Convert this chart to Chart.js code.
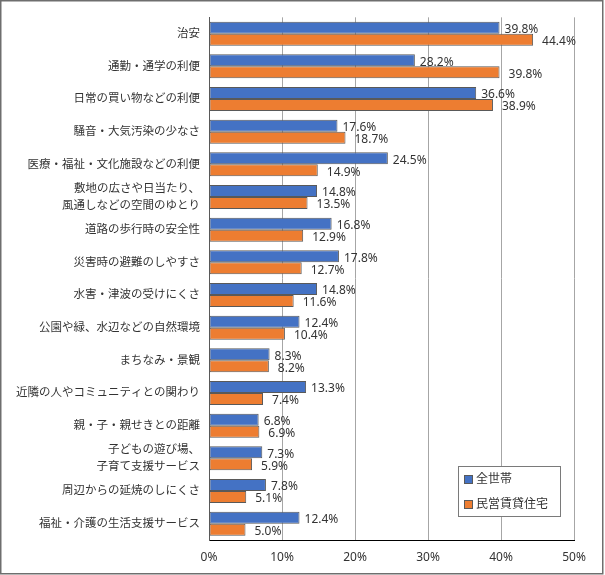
<!DOCTYPE html>
<html><head><meta charset="utf-8">
<script src="https://cdn.jsdelivr.net/npm/chart.js@4/dist/chart.umd.min.js"></script>
<style>html,body{margin:0;padding:0;background:#fff;}canvas{display:block;}</style>
</head><body>
<canvas id="c" width="605" height="575"></canvas>
<script>
const categories = [
  "治安",
  "通勤・通学の利便",
  "日常の買い物などの利便",
  "騒音・大気汚染の少なさ",
  "医療・福祉・文化施設などの利便",
  ["敷地の広さや日当たり、", "風通しなどの空間のゆとり"],
  "道路の歩行時の安全性",
  "災害時の避難のしやすさ",
  "水害・津波の受けにくさ",
  "公園や緑、水辺などの自然環境",
  "まちなみ・景観",
  "近隣の人やコミュニティとの関わり",
  "親・子・親せきとの距離",
  ["子どもの遊び場、", "子育て支援サービス"],
  "周辺からの延焼のしにくさ",
  "福祉・介護の生活支援サービス"
];
const seriesNames = ["全世帯", "民営賃貸住宅"];
const allHouseholds = [39.8, 28.2, 36.6, 17.6, 24.5, 14.8, 16.8, 17.8, 14.8, 12.4, 8.3, 13.3, 6.8, 7.3, 7.8, 12.4];
const privateRental = [44.4, 39.8, 38.9, 18.7, 14.9, 13.5, 12.9, 12.7, 11.6, 10.4, 8.2, 7.4, 6.9, 5.9, 5.1, 5.0];
const xTicks = [0, 10, 20, 30, 40, 50];

const FONT = "'Noto Sans', 'Noto Sans CJK JP', sans-serif";
const TXT = '#333333';
const colors = ['#4472C4', '#ED7D31'];

const labelPlugin = {
  id: 'valLabels',
  afterDatasetsDraw(chart) {
    const ctx = chart.ctx;
    ctx.save();
    ctx.font = '12px ' + FONT;
    ctx.fillStyle = TXT;
    ctx.textAlign = 'left';
    ctx.textBaseline = 'middle';
    chart.data.datasets.forEach((ds, di) => {
      const meta = chart.getDatasetMeta(di);
      meta.data.forEach((bar, i) => {
        const off = di === 0 ? 5 : 9;
        ctx.fillText(ds.data[i].toFixed(1) + '%', bar.x + off, bar.y + 2);
      });
    });
    ctx.restore();
  }
};

const legendBorderPlugin = {
  id: 'legendBorder',
  afterDraw(chart) {
    const ctx = chart.ctx;
    ctx.save();
    // outer border
    ctx.strokeStyle = '#6e6e6e';
    ctx.lineWidth = 1.5;
    ctx.strokeRect(0.75, 0.75, 602, 573);
    // legend box
    const lx = 458, ly = 466, lw = 102, lh = 50;
    ctx.fillStyle = '#ffffff';
    ctx.fillRect(lx, ly, lw, lh);
    ctx.strokeStyle = '#7a7a7a';
    ctx.lineWidth = 1;
    ctx.strokeRect(lx + 0.5, ly + 0.5, lw, lh);
    ctx.font = '12px ' + FONT;
    ctx.textAlign = 'left';
    ctx.textBaseline = 'middle';
    chart.data.datasets.forEach((ds, di) => {
      const cy = ly + 14 + di * 25;
      ctx.fillStyle = ds.backgroundColor;
      ctx.fillRect(lx + 7, cy - 4, 7, 7);
      ctx.strokeStyle = '#595959';
      ctx.strokeRect(lx + 6.5, cy - 4.5, 8, 8);
      ctx.fillStyle = TXT;
      ctx.fillText(ds.label, lx + 18, cy);
    });
    ctx.restore();
  }
};

new Chart(document.getElementById('c'), {
  type: 'bar',
  data: {
    labels: categories,
    datasets: [
      { label: seriesNames[0], data: allHouseholds, backgroundColor: colors[0], borderColor: '#595959', borderWidth: 1, borderSkipped: false },
      { label: seriesNames[1], data: privateRental, backgroundColor: colors[1], borderColor: '#595959', borderWidth: 1, borderSkipped: false }
    ]
  },
  options: {
    indexAxis: 'y',
    responsive: false,
    animation: false,
    devicePixelRatio: 1,
    layout: { padding: { top: 16, right: 31, left: 0, bottom: 0 } },
    datasets: { bar: { barPercentage: 1.0, categoryPercentage: 0.734 } },
    plugins: { legend: { display: false }, tooltip: { enabled: false } },
    scales: {
      x: {
        min: 0, max: 50,
        afterBuildTicks(scale) { scale.ticks = xTicks.map(v => ({ value: v })); },
        ticks: { callback: v => v + '%', color: TXT, font: { family: FONT, size: 12 }, padding: 10, maxRotation: 0 },
        grid: { color: '#A6A6A6', drawTicks: false, tickLength: 0, lineWidth: 1 },
        border: { display: true, color: '#000000', width: 1 },
        afterFit(scale) { scale.height = 35; }
      },
      y: {
        ticks: { color: TXT, font: { family: FONT, size: 11.5, lineHeight: 1.45 }, padding: 9, autoSkip: false },
        grid: { display: false, drawTicks: false },
        border: { display: true, color: '#595959', width: 1 },
        afterFit(scale) { scale.width = 209; }
      }
    }
  },
  plugins: [labelPlugin, legendBorderPlugin]
});
</script>
</body></html>
